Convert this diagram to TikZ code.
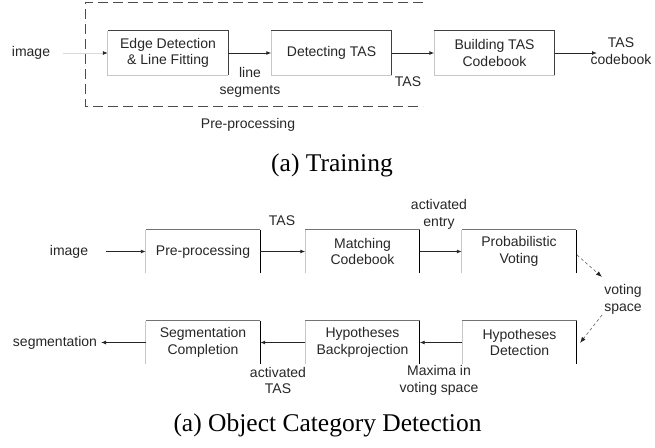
\documentclass[tikz,border=0pt]{standalone}
\usepackage{fontspec}
\setmainfont{Liberation Sans}
\newfontfamily\capfont{Liberation Serif}
\usetikzlibrary{arrows.meta}
\begin{document}
\begin{tikzpicture}[x=1pt,y=-1pt,
  txt/.style={font=\fontsize{14}{16.5}\selectfont, align=center, inner sep=0pt, text=black!85},
  tbox/.style={txt, minimum width=120pt, minimum height=44pt, fill=white},
  bbox/.style={txt, minimum width=114pt, minimum height=43pt},
  lightedge/.style={draw=black!22, line width=0.9pt},
  darkedge/.style={draw=black!75, line width=1.1pt},
  midedge/.style={draw=black!55, line width=0.9pt},
  blkedge/.style={draw=black, line width=1.2pt},
  arr/.style={draw=black!85, line width=0.9pt, -{Latex[length=5pt,width=4pt]}},
  faintarr/.style={draw=black!15, line width=0.8pt, -{Latex[length=5pt,width=4pt,black!85]}},
  dasharr/.style={draw=black!55, line width=0.7pt, dash pattern=on 3pt off 2.5pt, -{Latex[length=6pt,width=4.5pt,black!85]}},
  captxt/.style={font=\capfont\fontsize{25.5}{28}\selectfont, inner sep=0pt}
]
\useasboundingbox (0,0) rectangle (655,447);

% ---------- (a) Training ----------
\draw[draw=black!70, line width=0.9pt, dash pattern=on 10pt off 5pt] (423,2) -- (85,2) -- (85,106) -- (423,106);

\node[txt] (img1) at (31,53) {image};
\node[tbox] (b1) at (168,53) {Edge Detection\\\& Line Fitting};
\node[tbox] (b2) at (331.5,53) {Detecting TAS};
\node[tbox] (b3) at (494.5,53) {Building TAS\\Codebook};
\foreach \b in {b1,b2,b3}{
  \draw[lightedge] (\b.north west) -- (\b.south west) -- (\b.south east);
  \draw[darkedge] (\b.north west) -- (\b.north east) -- (\b.south east);
}
\coordinate (img1e) at (63,53);
\coordinate (cbw) at (597,53);
\draw[faintarr] (img1e) -- (b1.west);
\draw[arr] (b1.east) -- (b2.west);
\draw[arr] (b2.east) -- (b3.west);
\draw[arr] (b3.east) -- (cbw);

\node[txt] (ls) at (250,82.5) {line\\segments};
\node[txt] (tas1) at (408,82) {TAS};
\node[txt] (cb) at (621,51) {TAS\\codebook};
\node[txt] (pp) at (248,125) {Pre-processing};
\node[captxt] (c1) at (332,165) {(a) Training};

% ---------- (a) Object Category Detection ----------
\node[txt] (img2) at (69,252) {image};
\node[bbox] (p1) at (203,251.5) {Pre-processing};
\node[bbox] (p2) at (362.5,251.5) {Matching\\Codebook};
\node[bbox] (p3) at (519,251.5) {Probabilistic\\Voting};
\node[bbox] (q3) at (519.5,342.5) {Hypotheses\\Detection};
\node[bbox] (q2) at (362.5,342.5) {Hypotheses\\Backprojection};
\node[bbox] (q1) at (203,342.5) {Segmentation\\Completion};
\foreach \b in {p1,p2,p3,q1,q2,q3}{
  \draw[lightedge] (\b.south west) -- (\b.north west);
  \draw[midedge] (\b.north west) -- (\b.north east);
  \draw[blkedge] (\b.north east) -- (\b.south east);
}
\coordinate (img2e) at (106,251.5);
\draw[arr] (img2e) -- (p1.west);
\draw[arr] (p1.east) -- (p2.west);
\draw[arr] (p2.east) -- (p3.west);
\draw[arr] (q3.west) -- (q2.east);
\draw[arr] (q2.west) -- (q1.east);
\coordinate (segend) at (101,342.5);
\draw[arr] (q1.west) -- (segend);

\coordinate (d1s) at (577,255);
\coordinate (d1e) at (602,277);
\coordinate (d2s) at (602,315);
\coordinate (d2e) at (580,343);
\draw[dasharr] (d1s) -- (d1e);
\draw[dasharr] (d2s) -- (d2e);

\node[txt] (seg) at (55,342.5) {segmentation};
\node[txt] (tas2) at (282,221) {TAS};
\node[txt] (ae) at (439,214.5) {activated\\entry};
\node[txt] (vs) at (623,299.5) {voting\\space};
\node[txt] (mx) at (439,380.5) {Maxima in\\voting space};
\node[txt] (at) at (278,380.5) {activated\\TAS};
\node[captxt] (c2) at (327.5,425) {(a) Object Category Detection};
\end{tikzpicture}
\end{document}
